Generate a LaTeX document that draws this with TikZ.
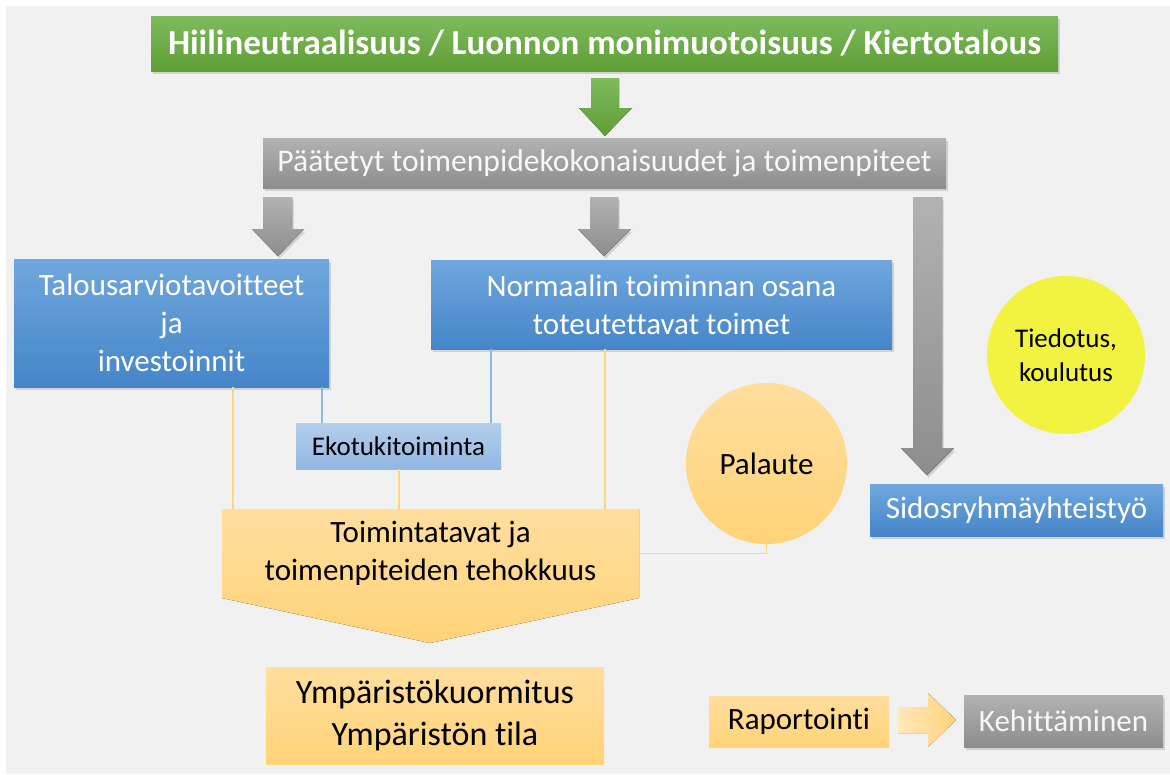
\documentclass[tikz,border=0pt]{standalone}
\usepackage{fontspec}
\setmainfont{Carlito}[Ligatures={TeX,NoCommon}]
\usetikzlibrary{shadows}
\definecolor{bgc}{HTML}{F1F1F1}
\definecolor{gtop}{HTML}{7EBA5E}
\definecolor{gbot}{HTML}{5E9F33}
\definecolor{grtop}{HTML}{B2B2B2}
\definecolor{grbot}{HTML}{8D8D8D}
\definecolor{btop}{HTML}{70A7DD}
\definecolor{bbot}{HTML}{4585C9}
\definecolor{lbtop}{HTML}{B4CEEB}
\definecolor{lbbot}{HTML}{92B7E3}
\definecolor{ytop}{HTML}{FFDE9E}
\definecolor{ybot}{HTML}{FFD378}
\definecolor{yelc}{HTML}{F2F240}
\definecolor{yline}{HTML}{FAD77A}
\definecolor{bline}{HTML}{8DB8E3}
\definecolor{wtext}{HTML}{F7F7F7}
\tikzset{
  sh/.style={drop shadow={opacity=0.28, shadow xshift=1.5pt, shadow yshift=-2.5pt}},
  base/.style={rectangle, inner sep=0pt, align=center, font=\fontsize{31}{38}\selectfont},
  greenbox/.style={base, top color=gtop, bottom color=gbot, sh, text=white, font=\fontsize{35}{41}\selectfont\bfseries},
  graybox/.style={base, top color=grtop, bottom color=grbot, sh, text=wtext},
  bluebox/.style={base, top color=btop, bottom color=bbot, sh, text=white},
  lightblue/.style={base, top color=lbtop, bottom color=lbbot, text=black, font=\fontsize{27}{32}\selectfont},
  yelbox/.style={base, top color=ytop, bottom color=ybot, text=black},
  grayarrow/.style={top color=grtop, bottom color=grbot, sh},
  greenarrow/.style={top color=gtop, bottom color=gbot},
  yconn/.style={draw=yline, line width=1.2pt},
  bconn/.style={draw=bline, line width=1.2pt}
}
\begin{document}
\begin{tikzpicture}[x=1pt,y=-1pt]
\useasboundingbox (0,0) rectangle (1170,774);
\fill[white] (0,0) rectangle (1170,774);
\fill[bgc] (6,6) rectangle (1170,774);

% boxes
\node[greenbox, minimum width=907, minimum height=55] (goal) at (604.5,43.5) {Hiilineutraalisuus / Luonnon monimuotoisuus / Kiertotalous};
\node[graybox, minimum width=683, minimum height=50, font=\fontsize{31.6}{38}\selectfont] (paat) at (604.5,163) {Päätetyt toimenpidekokonaisuudet ja toimenpiteet};

% arrows
\fill[greenarrow] (591,78) -- (619,78) -- (619,108) -- (632,108) -- (605,136) -- (579,108) -- (591,108) -- cycle;
\fill[grayarrow] (263,197) -- (292,197) -- (292,229) -- (304,229) -- (278,256) -- (252,229) -- (263,229) -- cycle;
\fill[grayarrow] (590,197) -- (618,197) -- (618,229) -- (631,229) -- (604,256) -- (578,229) -- (590,229) -- cycle;
\fill[grayarrow] (913,197) -- (942,197) -- (942,448) -- (954,448) -- (927,475) -- (901,448) -- (913,448) -- cycle;

\node[bluebox, minimum width=315, minimum height=128] (tal) at (171.5,323) {Talousarviotavoitteet\\ja\\investoinnit};
\node[bluebox, minimum width=461, minimum height=89] (norm) at (661.5,304.5) {Normaalin toiminnan osana\\toteutettavat toimet};
\node[lightblue, minimum width=205, minimum height=46] (eko) at (398.5,446) {Ekotukitoiminta};
\node[bluebox, minimum width=293, minimum height=52] (sid) at (1016.5,510) {Sidosryhmäyhteistyö};
\node[circle, fill=yelc, minimum size=158, inner sep=0pt, align=center, font=\fontsize{27}{34}\selectfont] (tied) at (1066,355) {Tiedotus,\\koulutus};
\node[circle, top color=ytop, bottom color=ybot, minimum size=161, inner sep=0pt, font=\fontsize{31}{38}\selectfont] (pal) at (766.5,463.5) {Palaute};

% Toimintatavat pentagon
\fill[top color=ytop, bottom color=ybot] (222,509) -- (639,509) -- (639,598) -- (430,643) -- (222,598) -- cycle;
\node[base, minimum width=417, minimum height=89] (toim) at (430.5,553.5) {Toimintatavat ja\\toimenpiteiden tehokkuus};

\node[yelbox, minimum width=338, minimum height=97, font=\fontsize{34}{42}\selectfont] (ymp) at (435,715.5) {Ympäristökuormitus\\Ympäristön tila};
\node[yelbox, minimum width=180, minimum height=51] (rap) at (799,721.5) {Raportointi};
\node[graybox, minimum width=199, minimum height=52] (keh) at (1063.5,721) {Kehittäminen};
\fill[left color=ytop!70!white, right color=ybot] (898,707) -- (928,707) -- (928,693) -- (956,720) -- (928,747) -- (928,733) -- (898,733) -- cycle;

% connectors
\coordinate (xa) at (233,0);
\coordinate (xb) at (399,0);
\coordinate (xc) at (605,0);
\coordinate (xd) at (322,0);
\coordinate (xe) at (491,0);
\draw[yconn] (tal.south -| xa) -- (toim.north -| xa);
\draw[yconn] (eko.south -| xb) -- (toim.north -| xb);
\draw[yconn] (norm.south -| xc) -- (toim.north -| xc);
\draw[bconn] (tal.south -| xd) -- (eko.north -| xd);
\draw[bconn] (norm.south -| xe) -- (eko.north -| xe);
\draw[yconn] (toim.east) -| (pal.south);
\end{tikzpicture}
\end{document}
